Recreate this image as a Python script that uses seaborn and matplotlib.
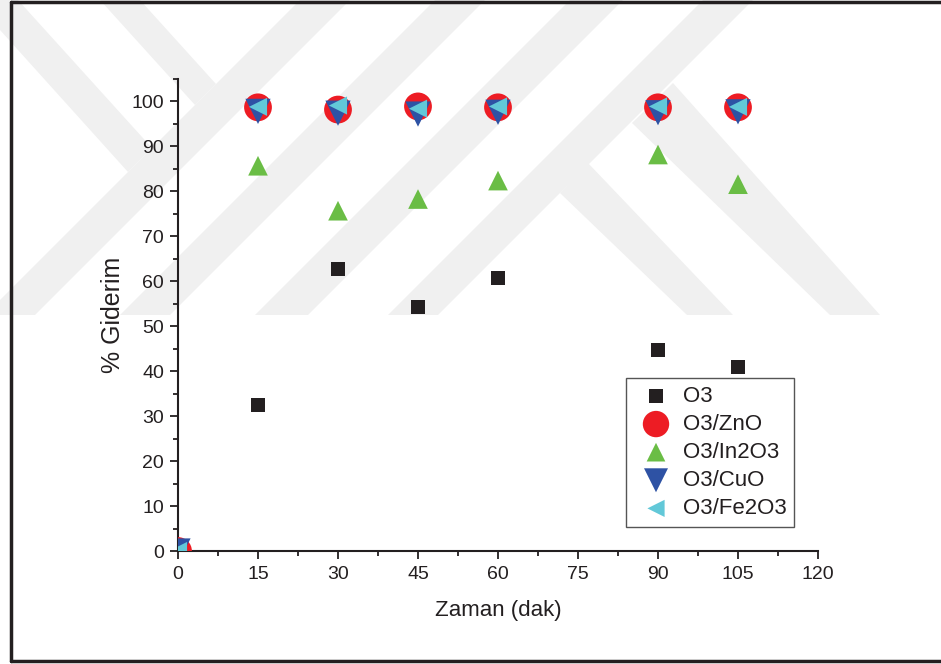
import pandas as pd
import matplotlib
matplotlib.use("Agg")
import matplotlib.pyplot as plt
import seaborn as sns
from matplotlib.patches import Polygon
from matplotlib.lines import Line2D
from matplotlib.ticker import MultipleLocator

# Data
zaman = [0, 15, 30, 45, 60, 90, 105]
o3 = [0, 32.4, 62.7, 54.2, 60.7, 44.8, 41.0]
o3_zno = [0, 98.7, 98.2, 98.9, 98.7, 98.7, 98.7]
o3_in2o3 = [0, 85.7, 75.7, 78.3, 82.4, 88.2, 81.6]
o3_cuo = [0, 97.8, 97.4, 97.2, 97.6, 97.5, 97.7]
o3_fe2o3 = [0, 98.8, 99.1, 98.4, 98.9, 98.9, 98.8]

series = ["O3", "O3/ZnO", "O3/In2O3", "O3/CuO", "O3/Fe2O3"]
values = [o3, o3_zno, o3_in2o3, o3_cuo, o3_fe2o3]
colors = ["#231f20", "#ed1c24", "#6abd45", "#2e52a4", "#62c8d8"]
markers = ["s", "o", "^", "v", "<"]
sizes = [100, 400, 200, 330, 170]

sns.set_theme(style="ticks")
plt.rcParams["font.family"] = ["Liberation Sans", "DejaVu Sans"]
ink = "#231f20"

W, H = 941, 664
fig = plt.figure(figsize=(W / 100, H / 100), dpi=100)
fig.patch.set_facecolor("white")


def px(x, y):
    return (x / W, 1 - y / H)


# light grey watermark bands behind the plot
bands = [
    [(0, 0), (18, 0), (152, 148), (128, 172), (0, 30)],
    [(100, 0), (140, 0), (216, 84), (195, 105)],
    [(300, 0), (350, 0), (35, 315), (-15, 315)],
    [(435, 0), (485, 0), (170, 315), (120, 315)],
    [(570, 0), (623, 0), (308, 315), (255, 315)],
    [(703, 0), (753, 0), (438, 315), (388, 315)],
    [(560, 193), (588, 163), (733, 315), (687, 315)],
    [(632, 123), (673, 83), (880, 315), (830, 315)],
]
for b in bands:
    fig.patches.append(Polygon([px(x, y) for x, y in b], closed=True,
                               transform=fig.transFigure, facecolor="#f0f0f0",
                               edgecolor="none", zorder=-5))

# outer frame (left, top, bottom visible)
for xs, ys in [([11, 11], [2, 661]), ([11, 941], [2, 2]), ([11, 941], [661, 661])]:
    fig.add_artist(Line2D([x / W for x in xs], [1 - y / H for y in ys],
                          transform=fig.transFigure, color=ink, lw=2.5, zorder=-4))

ax = fig.add_axes([178 / W, 1 - 551 / H, 640 / W, (551 - 79) / H])
ax.set_zorder(1)
ax.patch.set_alpha(0)

for name, vals, c, m, s in zip(series, values, colors, markers, sizes):
    df = pd.DataFrame({"Zaman": zaman, "Giderim": vals})
    sns.scatterplot(data=df, x="Zaman", y="Giderim", color=c, marker=m, s=s,
                    edgecolor="none", linewidth=0, label=name, ax=ax, zorder=3)

ax.set_xlim(0, 120)
ax.set_ylim(0, 105)
ax.xaxis.set_major_locator(MultipleLocator(15))
ax.xaxis.set_minor_locator(MultipleLocator(7.5))
ax.yaxis.set_major_locator(MultipleLocator(10))
ax.yaxis.set_minor_locator(MultipleLocator(5))
ax.set_yticks(range(0, 101, 10))
ax.tick_params(which="major", length=6, width=1.3, colors=ink, labelsize=14)
ax.tick_params(which="minor", length=3.5, width=1.3, colors=ink)
ax.tick_params(axis="x", pad=5)
ax.tick_params(axis="y", pad=4)

sns.despine(ax=ax)
for sp in ["left", "bottom"]:
    ax.spines[sp].set_linewidth(1.5)
    ax.spines[sp].set_color(ink)

ax.set_xlabel("Zaman (dak)", fontsize=16, color=ink, labelpad=12)
ax.set_ylabel("% Giderim", fontsize=18, color=ink, labelpad=5)

leg = ax.legend(loc="upper left", bbox_to_anchor=px(626, 378),
                bbox_transform=fig.transFigure, fontsize=16, frameon=True,
                fancybox=False, framealpha=1, edgecolor="#555555",
                handletextpad=0.2, labelspacing=0.32, borderpad=0.35,
                borderaxespad=0, markerscale=0.95)
leg.get_frame().set_linewidth(1.0)
for t in leg.get_texts():
    t.set_color(ink)

fig.savefig("out.png", dpi=100)
